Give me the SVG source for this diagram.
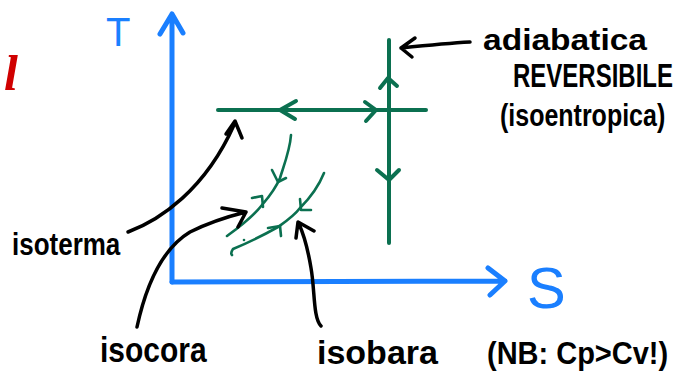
<svg xmlns="http://www.w3.org/2000/svg" width="683" height="379" viewBox="0 0 683 379">
<style>
.ax{fill:none;stroke:#1a7fff;stroke-width:5;stroke-linecap:round;stroke-linejoin:round}
.gr{fill:none;stroke:#0b7050;stroke-width:4;stroke-linecap:round;stroke-linejoin:round}
.gt{fill:none;stroke:#0b7050;stroke-width:2.6;stroke-linecap:round;stroke-linejoin:round}
.bk{fill:none;stroke:#000;stroke-width:3.5;stroke-linecap:round;stroke-linejoin:round}
.lb{font-family:"Liberation Sans",Arial,sans-serif;fill:#000;font-weight:bold}
.bl{font-family:"Liberation Sans",Arial,sans-serif;fill:#1a7fff}
</style>
<rect width="683" height="379" fill="#fff"/>
<text x="4" y="90" font-family="Liberation Serif,serif" font-style="italic" font-weight="bold" font-size="50" fill="#d00000">l</text>
<g id="axes">
<path class="ax" d="M172,282 L172,14 M160,34 L172,14 L183,33"/>
<path class="ax" d="M172,282 L505,281 M488,268 L505,281 L490,295"/>
<text class="bl" x="106" y="46" font-size="40">T</text>
<text class="bl" x="527" y="308" font-size="58">S</text>
</g>
<g id="isoentropica">
<path class="gr" d="M389,40 L389,243"/>
<path class="gr" d="M380,88 L388,78 L397,86"/>
<path class="gr" d="M377,170 L389,180 L399,170"/>
</g>
<g id="isoterma">
<path class="gr" d="M218,110 L426,110"/>
<path class="gr" d="M296,101 L280,110 L295,119"/>
<path class="gr" d="M365,102 L376,110 L366,121"/>
</g>
<g id="isocora">
<path class="gt" d="M291,135 C290,150 284,165 280,178 C275,190 268,198 262,205 C252,218 238,228 227,236"/>
<path class="gt" d="M272,170 L278,182 L286,178"/>
<path class="gt" d="M252,198 L262,196 L263,207"/>
</g>
<g id="isobara">
<path class="gt" d="M324,173 C318,188 308,200 300,208 C294,216 285,222 278,227 C262,236 245,244 233,249 C231,252 231,254 232,255"/>
<path class="gt" d="M300,199 L301,210 L311,210"/>
<path class="gt" d="M268,228 L280,226 L281,236"/>
<circle cx="244" cy="240" r="1.3" fill="#0b7050"/>
</g>
<g id="connectors">
<path class="bk" d="M470,42 C450,43 420,46 401,48 M415,38 L401,48 L412,57"/>
<path class="bk" d="M128,232 C160,220 205,190 234,125 M226,134 L235,121 L242,138"/>
<path class="bk" d="M137,327 C145,290 160,250 190,232 C210,222 230,216 246,212 M222,208 L246,212 L238,227"/>
<path class="bk" d="M321,326 C313,318 315,290 311,268 C308,250 304,235 299,224 M296,238 L298,222 L314,231"/>
</g>
<g id="labels">
<text class="lb" transform="translate(12,255) scale(1,1.2)" font-size="26">isoterma</text>
<text class="lb" transform="translate(100,362) scale(1,1.15)" font-size="30">isocora</text>
<text class="lb" x="317" y="364" font-size="34">isobara</text>
<text class="lb" transform="translate(487,364) scale(1,1.1)" font-size="29">(NB: Cp&gt;Cv!)</text>
<text class="lb" x="483" y="50" font-size="30" textLength="164" lengthAdjust="spacingAndGlyphs">adiabatica</text>
<text class="lb" transform="translate(513,87) scale(1,1.35)" font-size="24">REVERSIBILE</text>
<text class="lb" transform="translate(500,126) scale(1,1.25)" font-size="25">(isoentropica)</text>
</g>
</svg>
